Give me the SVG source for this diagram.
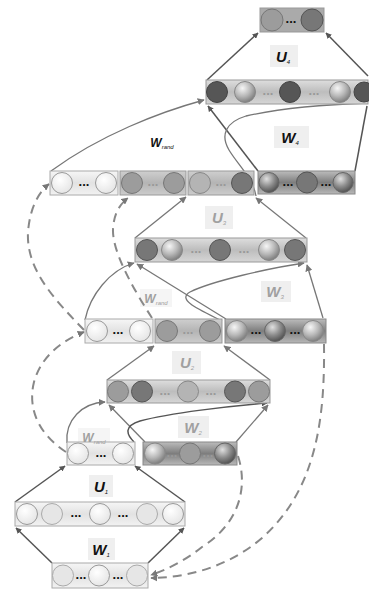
<svg xmlns="http://www.w3.org/2000/svg" width="369" height="590" viewBox="0 0 369 590">
<defs>
<linearGradient id="gLight" x1="0" y1="0" x2="0" y2="1"><stop offset="0" stop-color="#f6f6f6"/><stop offset="0.5" stop-color="#e2e2e2"/><stop offset="1" stop-color="#f2f2f2"/></linearGradient>
<linearGradient id="gGray" x1="0" y1="0" x2="0" y2="1"><stop offset="0" stop-color="#cfcfcf"/><stop offset="0.5" stop-color="#b4b4b4"/><stop offset="1" stop-color="#cccccc"/></linearGradient>
<linearGradient id="gBar" x1="0" y1="0" x2="0" y2="1"><stop offset="0" stop-color="#dedede"/><stop offset="0.5" stop-color="#bdbdbd"/><stop offset="1" stop-color="#d6d6d6"/></linearGradient>
<linearGradient id="gDark" x1="0" y1="0" x2="0" y2="1"><stop offset="0" stop-color="#bcbcbc"/><stop offset="0.5" stop-color="#7e7e7e"/><stop offset="1" stop-color="#b8b8b8"/></linearGradient>
<radialGradient id="gSph" cx="0.38" cy="0.32" r="0.7"><stop offset="0" stop-color="#f6f6f6"/><stop offset="0.55" stop-color="#b8b8b8"/><stop offset="1" stop-color="#7c7c7c"/></radialGradient>
<radialGradient id="gSphD" cx="0.38" cy="0.32" r="0.7"><stop offset="0" stop-color="#e0e0e0"/><stop offset="0.55" stop-color="#8c8c8c"/><stop offset="1" stop-color="#505050"/></radialGradient>
<radialGradient id="gWhite" cx="0.4" cy="0.35" r="0.7"><stop offset="0" stop-color="#ffffff"/><stop offset="1" stop-color="#e4e4e4"/></radialGradient>
<marker id="ah" viewBox="0 0 10 10" refX="9" refY="5" markerWidth="6" markerHeight="6" orient="auto" markerUnits="userSpaceOnUse"><path d="M0,0 L10,5 L0,10 z" fill="#555"/></marker>
<marker id="ahg" viewBox="0 0 10 10" refX="9" refY="5" markerWidth="7" markerHeight="7" orient="auto" markerUnits="userSpaceOnUse"><path d="M0,0 L10,5 L0,10 z" fill="#777"/></marker>
</defs>
<style>
.bl{fill:url(#gLight);stroke:#aaa;stroke-width:1}
.bg{fill:url(#gGray);stroke:#999;stroke-width:1}
.bb{fill:url(#gBar);stroke:#999;stroke-width:1}
.bd{fill:url(#gDark);stroke:#888;stroke-width:1}
.cw{fill:url(#gWhite);stroke:#999;stroke-width:1}
.cl{fill:#e6e6e6;stroke:#aaa;stroke-width:1}
.cs{fill:url(#gSph);stroke:#888;stroke-width:1}
.csd{fill:url(#gSphD);stroke:#666;stroke-width:1}
.cm{fill:#9c9c9c;stroke:#777;stroke-width:1}
.cg{fill:#b4b4b4;stroke:#888;stroke-width:1}
.ck{fill:#565656;stroke:#444;stroke-width:1}
.ck2{fill:#777;stroke:#555;stroke-width:1}
.dots{font-family:"Liberation Sans",Arial,sans-serif;font-weight:bold;font-size:13px;fill:#111;text-anchor:middle}
.dotsg{font-family:"Liberation Sans",Arial,sans-serif;font-weight:bold;font-size:13px;fill:#999;text-anchor:middle}
.lb{font-family:"Liberation Sans",Arial,sans-serif;font-weight:bold;font-style:italic;font-size:15px;text-anchor:middle}
.lr{font-family:"Liberation Sans",Arial,sans-serif;font-weight:bold;font-style:italic;font-size:12px;text-anchor:middle}
.sub{font-size:6px;font-weight:normal}
.blk{fill:#111}
.gry{fill:#a0a0a0}
.lbg{fill:#efefef}
.ln{fill:none;stroke:#555;stroke-width:1.5}
.lg{fill:none;stroke:#777;stroke-width:1.3}
.ds{fill:none;stroke:#888;stroke-width:2;stroke-dasharray:9 6}
</style>
<rect width="369" height="590" fill="#fff"/>

<g id="labels-bg">
<rect class="lbg" x="270" y="45" width="28" height="22"/>
<rect class="lbg" x="274" y="126" width="35" height="22"/>
<rect class="lbg" x="205" y="206" width="28" height="23"/>
<rect class="lbg" x="261" y="281" width="30" height="21"/>
<rect class="lbg" x="172" y="351" width="29" height="23"/>
<rect class="lbg" x="178" y="416" width="31" height="22"/>
<rect class="lbg" x="89" y="475" width="24" height="22"/>
<rect class="lbg" x="88" y="538" width="27" height="22"/>
<rect class="lbg" x="140" y="289" width="32" height="18" opacity="0.6"/>
<rect class="lbg" x="78" y="428" width="32" height="18" opacity="0.6"/>
</g>

<g id="connectors">
<!-- level 1 -->
<line class="ln" x1="52" y1="563" x2="16" y2="528" marker-end="url(#ah)"/>
<line class="ln" x1="148" y1="563" x2="184" y2="528" marker-end="url(#ah)"/>
<line class="ln" x1="15" y1="502" x2="65" y2="466" marker-end="url(#ah)"/>
<line class="ln" x1="185" y1="502" x2="135" y2="466" marker-end="url(#ah)"/>
<!-- level 2 -->
<path class="lg" d="M67,443 C65,420 82,403 105,402" marker-end="url(#ahg)"/>
<line class="lg" x1="107" y1="380" x2="154" y2="346" marker-end="url(#ahg)"/>
<line class="lg" x1="270" y1="380" x2="224" y2="346" marker-end="url(#ahg)"/>
<line class="lg" x1="145" y1="442" x2="109" y2="405" marker-end="url(#ahg)"/>
<line class="lg" x1="236" y1="442" x2="268" y2="405" marker-end="url(#ahg)"/>
<path class="ln" d="M134,442 C126,434 124,426 140,421 C170,413 230,406 267,403" marker-end="url(#ah)"/>
<!-- level 3 -->
<path class="lg" d="M85,320 C90,295 110,270 134,263" marker-end="url(#ahg)"/>
<line class="lg" x1="135" y1="238" x2="186" y2="197" marker-end="url(#ahg)"/>
<line class="lg" x1="306" y1="238" x2="256" y2="198" marker-end="url(#ahg)"/>
<line class="lg" x1="226" y1="319" x2="137" y2="264" marker-end="url(#ahg)"/>
<line class="lg" x1="323" y1="318" x2="307" y2="265" marker-end="url(#ahg)"/>
<path class="lg" d="M222,321 C200,310 176,300 190,292 C212,281 270,268 304,263" marker-end="url(#ahg)"/>
<!-- level 4 -->
<path class="lg" d="M51,171 C100,135 160,112 204,100" marker-end="url(#ahg)"/>
<line class="ln" x1="258" y1="171" x2="208" y2="106" marker-end="url(#ah)"/>
<line class="ln" x1="355" y1="171" x2="367" y2="106"/>
<line class="ln" x1="207" y1="80" x2="258" y2="33" marker-end="url(#ah)"/>
<line class="ln" x1="368" y1="76" x2="326" y2="33" marker-end="url(#ah)"/>
<path class="lg" d="M256,196 C253,178 238,165 229,150 C220,135 226,122 246,116 C290,106 340,104 368,103"/>
<!-- dashed -->
<path class="ds" d="M66,452 C40,435 27,410 34,382 C41,356 63,340 84,332" marker-end="url(#ahg)"/>
<path class="ds" d="M84,330 C55,300 26,270 28,232 C30,207 39,192 49,184" marker-end="url(#ahg)"/>
<path class="ds" d="M152,318 C134,290 112,252 113,229 C114,213 120,204 128,198" marker-end="url(#ahg)"/>
<path class="ds" d="M238,456 C249,490 237,525 202,547 C186,560 166,570 151,575" marker-end="url(#ahg)"/>
<path class="ds" d="M324,344 C325,420 316,490 262,538 C226,569 182,578 151,578" marker-end="url(#ahg)"/>
</g>

<g id="L4-out">
<rect x="260" y="8" width="64" height="24" fill="#aaa" stroke="#999"/>
<circle class="cm" cx="272" cy="20" r="11"/>
<text class="dots" x="291" y="23">...</text>
<circle class="ck2" cx="312" cy="20" r="11"/>
</g>
<g id="L4-bar">
<rect class="bb" x="206" y="80" width="162" height="24"/>
<circle class="ck" cx="217" cy="92" r="10.5"/>
<circle class="cs" cx="245" cy="92" r="10.5"/>
<text class="dotsg" x="268" y="95">...</text>
<circle class="ck" cx="290" cy="92" r="10.5"/>
<text class="dotsg" x="314" y="95">...</text>
<circle class="cs" cx="340" cy="92" r="10.5"/>
<circle class="ck" cx="364" cy="92" r="10"/>
</g>
<g id="L4-left">
<rect class="bl" x="50" y="171" width="68" height="24"/>
<circle class="cw" cx="62" cy="183" r="10.5"/>
<text class="dots" x="84" y="186">...</text>
<circle class="cw" cx="106" cy="183" r="10.5"/>
</g>
<g id="L4-mid">
<rect class="bg" x="120" y="171" width="66" height="24"/>
<circle class="cm" cx="132" cy="183" r="10.5"/>
<text class="dotsg" x="153" y="186">...</text>
<circle class="cm" cx="174" cy="183" r="10.5"/>
</g>
<g id="L4-right">
<rect class="bg" x="188" y="171" width="66" height="24"/>
<circle class="cg" cx="200" cy="183" r="10.5"/>
<text class="dotsg" x="221" y="186">...</text>
<circle class="ck2" cx="242" cy="183" r="10.5"/>
</g>
<g id="L4-in">
<rect class="bd" x="258" y="171" width="97" height="23"/>
<circle class="csd" cx="269" cy="182.5" r="10"/>
<text class="dots" x="288" y="186">...</text>
<circle class="ck2" cx="307" cy="182.5" r="10.5"/>
<text class="dots" x="326" y="186">...</text>
<circle class="csd" cx="343" cy="182.5" r="10"/>
</g>

<g id="L3-bar">
<rect class="bb" x="135" y="238" width="172" height="24"/>
<circle class="ck2" cx="147" cy="250" r="10.5"/>
<circle class="cs" cx="172" cy="250" r="10.5"/>
<text class="dotsg" x="196" y="253">...</text>
<circle class="ck2" cx="220" cy="250" r="10.5"/>
<text class="dotsg" x="244" y="253">...</text>
<circle class="cs" cx="269" cy="250" r="10.5"/>
<circle class="ck2" cx="295" cy="250" r="10.5"/>
</g>
<g id="L3-left">
<rect class="bl" x="85" y="319" width="68" height="24"/>
<circle class="cw" cx="97" cy="331" r="10.5"/>
<text class="dots" x="118" y="334">...</text>
<circle class="cw" cx="140" cy="331" r="10.5"/>
</g>
<g id="L3-mid">
<rect class="bg" x="155" y="319" width="67" height="24"/>
<circle class="cm" cx="167" cy="331" r="10.5"/>
<text class="dotsg" x="188" y="334">...</text>
<circle class="cm" cx="210" cy="331" r="10.5"/>
</g>
<g id="L3-in">
<rect class="bd" x="225" y="319" width="101" height="24"/>
<circle class="cs" cx="237" cy="331" r="10.5"/>
<text class="dots" x="256" y="334">...</text>
<circle class="csd" cx="275" cy="331" r="10.5"/>
<text class="dots" x="295" y="334">...</text>
<circle class="cs" cx="313" cy="331" r="10.5"/>
</g>

<g id="L2-bar">
<rect class="bb" x="107" y="380" width="163" height="23"/>
<circle class="cm" cx="118" cy="391.5" r="10.5"/>
<circle class="ck2" cx="142" cy="391.5" r="10.5"/>
<text class="dotsg" x="165" y="394.5">...</text>
<circle class="cg" cx="188" cy="391.5" r="10.5"/>
<text class="dotsg" x="211" y="394.5">...</text>
<circle class="ck2" cx="235" cy="391.5" r="10.5"/>
<circle class="cm" cx="259" cy="391.5" r="10.5"/>
</g>
<g id="L2-left">
<rect class="bl" x="67" y="442" width="68" height="23"/>
<circle class="cw" cx="78" cy="453.5" r="10.5"/>
<text class="dots" x="101" y="457">...</text>
<circle class="cw" cx="123" cy="453.5" r="10.5"/>
</g>
<g id="L2-in">
<rect class="bd" x="143" y="442" width="94" height="23"/>
<circle class="cs" cx="155" cy="453.5" r="10.5"/>
<text class="dotsg" x="172" y="457">...</text>
<circle class="cm" cx="190" cy="453.5" r="10.5"/>
<text class="dotsg" x="208" y="457">...</text>
<circle class="csd" cx="225" cy="453.5" r="10.5"/>
</g>

<g id="L1-bar">
<rect class="bl" x="15" y="502" width="170" height="24"/>
<circle class="cw" cx="27" cy="514" r="10.5"/>
<circle class="cl" cx="52" cy="514" r="10.5"/>
<text class="dots" x="76" y="517">...</text>
<circle class="cw" cx="100" cy="514" r="10.5"/>
<text class="dots" x="123" y="517">...</text>
<circle class="cl" cx="147" cy="514" r="10.5"/>
<circle class="cw" cx="173" cy="514" r="10.5"/>
</g>
<g id="L1-in">
<rect class="bl" x="52" y="563" width="96" height="25"/>
<circle class="cl" cx="63" cy="575.5" r="10.5"/>
<text class="dots" x="81" y="579">...</text>
<circle class="cw" cx="99" cy="575.5" r="10.5"/>
<text class="dots" x="118" y="579">...</text>
<circle class="cl" cx="137" cy="575.5" r="10.5"/>
</g>

<g id="labels">
<text class="lb blk" x="283" y="62">U<tspan class="sub" dy="2">4</tspan></text>
<text class="lb blk" x="290" y="143">W<tspan class="sub" dy="2">4</tspan></text>
<text class="lr blk" x="162" y="147">W<tspan class="sub" dy="2">rand</tspan></text>
<text class="lb gry" x="219" y="223">U<tspan class="sub" dy="2">3</tspan></text>
<text class="lb gry" x="275" y="297">W<tspan class="sub" dy="2">3</tspan></text>
<text class="lr gry" x="156" y="303">W<tspan class="sub" dy="2">rand</tspan></text>
<text class="lb gry" x="187" y="368">U<tspan class="sub" dy="2">2</tspan></text>
<text class="lb gry" x="193" y="433">W<tspan class="sub" dy="2">2</tspan></text>
<text class="lr gry" x="94" y="442">W<tspan class="sub" dy="2">rand</tspan></text>
<text class="lb blk" x="101" y="492">U<tspan class="sub" dy="2">1</tspan></text>
<text class="lb blk" x="101" y="555">W<tspan class="sub" dy="2">1</tspan></text>
</g>
</svg>
